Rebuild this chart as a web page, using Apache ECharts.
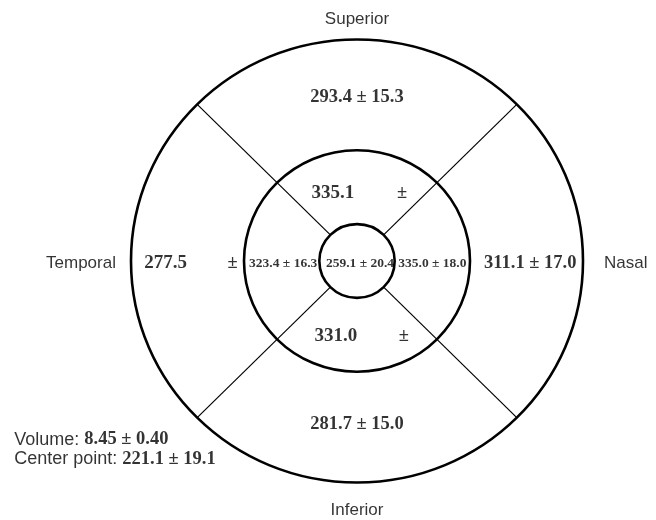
<!DOCTYPE html>
<html>
<head>
<meta charset="utf-8">
<script src="https://cdn.jsdelivr.net/npm/echarts@6/dist/echarts.min.js"></script>
<style>
  html, body { margin: 0; padding: 0; background: #fff; }
  #chart { width: 656px; height: 520px; }
</style>
</head>
<body>
<div id="chart"></div>
<script>
// ETDRS grid, radii in mm
const ringRadii = [0.5, 1.5, 3]
const spokeAngles = [45, 135, 225, 315]

// sectors: superior, inferior, temporal, nasal
const sectorNames = ['Superior', 'Inferior', 'Temporal', 'Nasal']
const outerMean = [293.4, 281.7, 277.5, 311.1]
const outerSd = [15.3, 15.0, null, 17.0]
const innerMean = [335.1, 331.0, 323.4, 335.0]
const innerSd = [null, null, 16.3, 18.0]
const centerMean = 259.1
const centerSd = 20.4
const volumeMean = 8.45
const volumeSd = 0.40
const centerPointMean = 221.1
const centerPointSd = 19.1

// label layout (mm in the grid's space)
const namePos = [[0, 3.28], [0, -3.37], [-3.2, -0.03], [3.28, -0.03]]
const nameAlign = ['center', 'center', 'right', 'left']
const outerPos = [[0, 2.22], [0, -2.21], [-2.54, -0.03], [2.30, -0.03]]
const outerPmPos = [null, null, [-1.65, -0.03], null]
const innerPos = [[-0.32, 0.92], [-0.28, -1.02], [-0.98, -0.03], [1.0, -0.03]]
const innerPmPos = [[0.60, 0.92], [0.62, -1.02], null, null]
const centerPos = [0.04, -0.03]
const footPos = [[-4.55, -2.42], [-4.55, -2.68]]

const serif = 'Liberation Serif, Times New Roman, serif'
const sans = 'Liberation Sans, Arial, sans-serif'

const fmt = (m, s, d = 1) => s == null ? m.toFixed(d) : `${m.toFixed(d)} ± ${s.toFixed(d)}`

const labels = []
function addLabel(pos, text, style) {
  labels.push({ value: pos, label: Object.assign({ formatter: text }, style) })
}

const bigNum = { fontFamily: serif, fontWeight: 'bold', fontSize: 18.5 }
const bigLone = { fontFamily: serif, fontWeight: 'bold', fontSize: 19 }
const smallNum = { fontFamily: serif, fontWeight: 'bold', fontSize: 13.5 }

sectorNames.forEach((name, i) => {
  addLabel(namePos[i], name, { fontFamily: sans, fontSize: 17, align: nameAlign[i] })
  addLabel(outerPos[i], fmt(outerMean[i], outerSd[i]), outerSd[i] == null ? bigLone : bigNum)
  if (outerPmPos[i]) addLabel(outerPmPos[i], '±', bigNum)
  addLabel(innerPos[i], fmt(innerMean[i], innerSd[i]), innerSd[i] == null ? bigLone : smallNum)
  if (innerPmPos[i]) addLabel(innerPmPos[i], '±', bigNum)
})
addLabel(centerPos, fmt(centerMean, centerSd), smallNum)

const footRich = {
  a: { fontFamily: sans, fontSize: 18, color: '#000' },
  b: { fontFamily: serif, fontWeight: 'bold', fontSize: 18.5, color: '#000' }
}
addLabel(footPos[0], `{a|Volume: }{b|${fmt(volumeMean, volumeSd, 2)}}`, { align: 'left', rich: footRich })
addLabel(footPos[1], `{a|Center point: }{b|${fmt(centerPointMean, centerPointSd)}}`, { align: 'left', rich: footRich })

const chart = echarts.init(document.getElementById('chart'), null, { renderer: 'canvas' })

chart.setOption({
  animation: false,
  backgroundColor: '#fff',
  grid: { left: 131, top: 39.5, width: 452, height: 443 },
  xAxis: { type: 'value', min: -3, max: 3, show: false },
  yAxis: { type: 'value', min: -3, max: 3, show: false },
  series: [
    {
      type: 'custom',
      coordinateSystem: 'cartesian2d',
      data: spokeAngles,
      renderItem: (params, api) => {
        const a = api.value(0) * Math.PI / 180
        const r0 = ringRadii[0]
        const r1 = ringRadii[2]
        const p0 = api.coord([r0 * Math.cos(a), r0 * Math.sin(a)])
        const p1 = api.coord([r1 * Math.cos(a), r1 * Math.sin(a)])
        return {
          type: 'line',
          shape: { x1: p0[0], y1: p0[1], x2: p1[0], y2: p1[1] },
          style: { stroke: '#000', lineWidth: 1.2 }
        }
      },
      clip: false,
      silent: true
    },
    {
      type: 'custom',
      coordinateSystem: 'cartesian2d',
      data: ringRadii,
      renderItem: (params, api) => {
        const r = api.value(0)
        const c = api.coord([0, 0])
        const px = api.coord([r, 0])
        const py = api.coord([0, r])
        return {
          type: 'ellipse',
          shape: { cx: c[0], cy: c[1], rx: Math.abs(px[0] - c[0]), ry: Math.abs(c[1] - py[1]) },
          style: { fill: 'none', stroke: '#000', lineWidth: 2.6 }
        }
      },
      clip: false,
      silent: true
    },
    {
      type: 'scatter',
      data: labels,
      symbolSize: 0,
      clip: false,
      silent: true,
      label: {
        show: true,
        position: 'inside',
        color: '#000',
        verticalAlign: 'middle'
      }
    }
  ]
})
</script>
</body>
</html>
